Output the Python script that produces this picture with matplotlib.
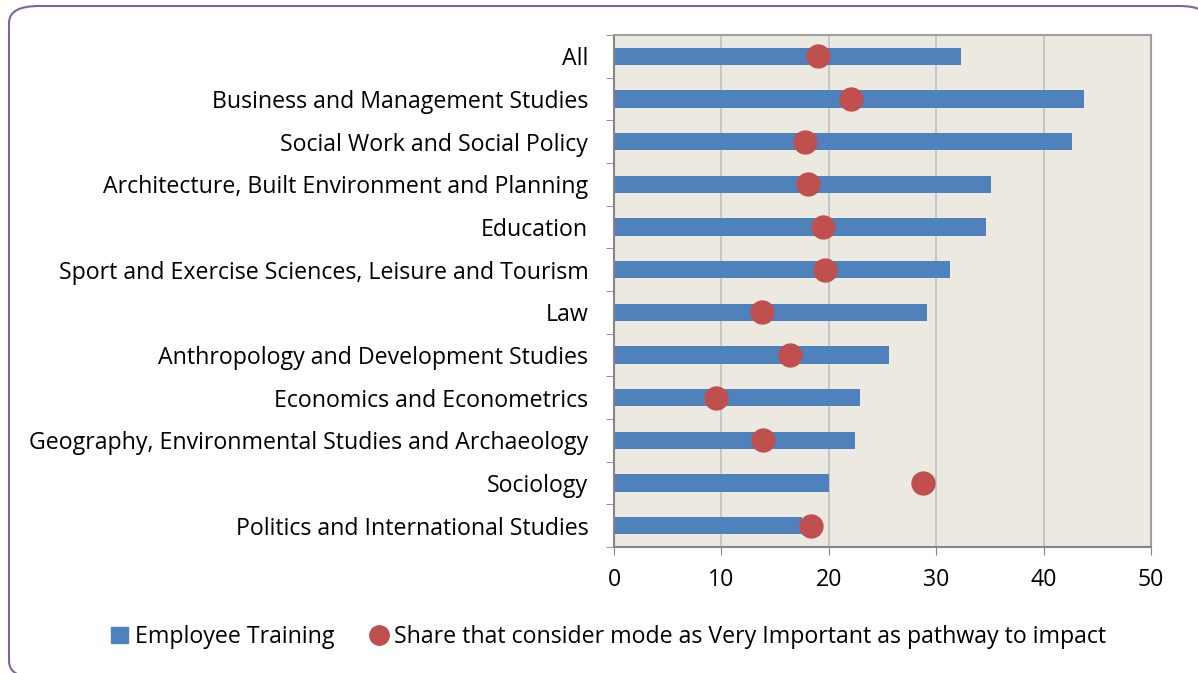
import matplotlib.pyplot as plt
import numpy as np
from matplotlib.patches import FancyBboxPatch
from matplotlib.lines import Line2D
from matplotlib.patches import Patch

# Data (top to bottom)
categories = [
    "All",
    "Business and Management Studies",
    "Social Work and Social Policy",
    "Architecture, Built Environment and Planning",
    "Education",
    "Sport and Exercise Sciences, Leisure and Tourism",
    "Law",
    "Anthropology and Development Studies",
    "Economics and Econometrics",
    "Geography, Environmental Studies and Archaeology",
    "Sociology",
    "Politics and International Studies",
]
employee_training = [32.3, 43.8, 42.6, 35.1, 34.6, 31.3, 29.1, 25.6, 22.9, 22.4, 20.0, 17.5]
very_important = [19.0, 22.1, 17.8, 18.1, 19.5, 19.6, 13.8, 16.4, 9.5, 13.9, 28.8, 18.3]
x_ticks = [0, 10, 20, 30, 40, 50]

plt.rcParams['font.family'] = ['Open Sans', 'DejaVu Sans']

bar_color = "#4F81BD"
dot_color = "#C0504D"
fs = 16.7

fig = plt.figure(figsize=(11.98, 6.73), dpi=100)

# rounded purple frame around the chart
frame = FancyBboxPatch((9 / 1198, -5 / 673), 1200 / 1198, 672 / 673,
                       boxstyle="round,pad=0,rounding_size=0.025",
                       transform=fig.transFigure, facecolor="white",
                       edgecolor="#8064A2", linewidth=1.5, zorder=-5)
fig.patches.append(frame)

ax = fig.add_axes([614 / 1198, 1 - 547 / 673, 537 / 1198, 512 / 673])
ax.set_facecolor("#ECE9E0")

y = np.arange(len(categories))
ax.barh(y, employee_training, height=0.4, color=bar_color, zorder=2)
ax.plot(very_important, y, 'o', color=dot_color, markersize=16.5, zorder=3)

ax.set_xlim(0, 50)
ax.set_ylim(len(categories) - 0.5, -0.5)
ax.set_xticks(x_ticks)
ax.set_xticklabels([str(t) for t in x_ticks], fontsize=fs)
ax.set_yticks(y)
ax.set_yticklabels(categories, fontsize=fs)
ax.tick_params(axis='y', length=0, pad=18.5)
ax.set_yticks(np.arange(len(categories) + 1) - 0.5, minor=True)
ax.tick_params(axis='y', which='minor', length=6, color="#868686")
ax.tick_params(axis='x', length=6, color="#868686", pad=9)
ax.grid(axis='x', color="#BFBFBF", linewidth=1.2, zorder=1)
ax.set_axisbelow(True)
for sp in ax.spines.values():
    sp.set_color("#A0A0A0")
    sp.set_linewidth(1.5)
ax.spines['left'].set_color("#868686")
ax.spines['bottom'].set_color("#868686")

handles = [
    Patch(facecolor=bar_color, edgecolor=bar_color),
    Line2D([], [], marker='o', linestyle='none', color=dot_color, markersize=14),
]
labels = ["Employee Training",
          "Share that consider mode as Very Important as pathway to impact"]
fig.legend(handles, labels, loc='center', bbox_to_anchor=(609 / 1198, 1 - 637 / 673),
           ncol=2, frameon=False, fontsize=fs, handlelength=0.7,
           handletextpad=0.3, columnspacing=1.6)

fig.savefig("out.png", dpi=100)
